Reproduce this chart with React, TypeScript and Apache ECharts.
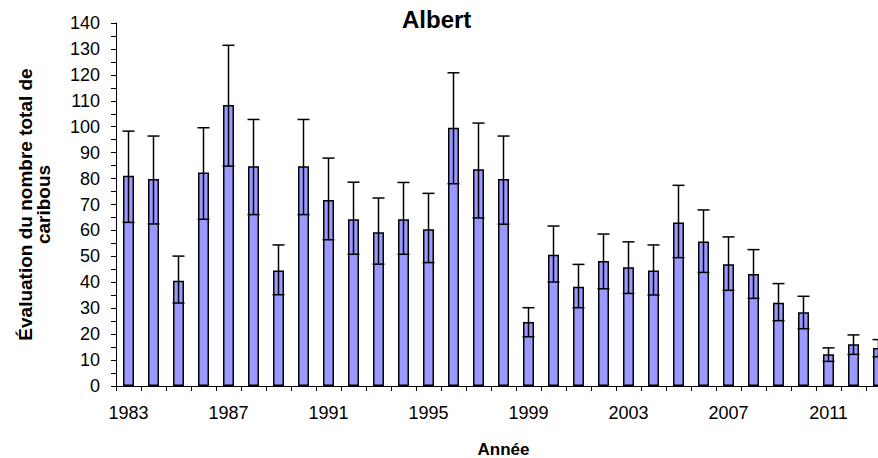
import React, { useEffect, useRef } from "react";
import * as echarts from "echarts";

const years = [
  "1983", "1984", "1985", "1986", "1987", "1988", "1989", "1990", "1991", "1992",
  "1993", "1994", "1995", "1996", "1997", "1998", "1999", "2000", "2001", "2002",
  "2003", "2004", "2005", "2006", "2007", "2008", "2009", "2010", "2011", "2012", "2013",
];
const estimates = [
  81.1, 79.8, 40.6, 82.3, 108.4, 84.8, 44.5, 84.8, 71.7, 64.3,
  59.3, 64.3, 60.5, 99.6, 83.6, 79.8, 24.7, 50.6, 38.3, 48.2,
  45.8, 44.5, 63.1, 55.7, 47.0, 43.2, 32.1, 28.4, 12.2, 16.1, 14.7,
];
const lowerBounds = [
  63.1, 62.5, 32.0, 64.3, 84.8, 66.1, 35.2, 66.1, 56.4, 50.8,
  47.0, 50.8, 47.6, 78.0, 64.8, 62.4, 19.0, 40.1, 30.2, 37.5,
  35.7, 35.1, 49.5, 43.8, 36.9, 33.8, 25.2, 22.1, 9.5, 12.2, 11.3,
];
const upperBounds = [
  98.3, 96.4, 50.1, 99.6, 131.4, 102.8, 54.4, 102.8, 87.9, 78.6,
  72.5, 78.5, 74.3, 120.8, 101.4, 96.4, 30.2, 61.7, 46.9, 58.6,
  55.6, 54.4, 77.4, 67.9, 57.5, 52.6, 39.5, 34.6, 14.7, 19.7, 17.9,
];

const FONT = "'Liberation Sans', Arial, sans-serif";

export default function App() {
  const ref = useRef<HTMLDivElement>(null);
  useEffect(() => {
    if (!ref.current) return;
    const chart = echarts.init(ref.current, undefined, { renderer: "svg" });
    const errData = years.map((_, i) => [i, lowerBounds[i], upperBounds[i]]);
    chart.setOption({
      animation: false,
      backgroundColor: "#ffffff",
      textStyle: { fontFamily: FONT },
      title: {
        text: "Albert",
        left: 402,
        top: 7,
        padding: 0,
        textStyle: { fontFamily: FONT, fontSize: 24, fontWeight: "bold", color: "#000" },
      },
      grid: { left: 116, top: 23, width: 775, height: 363, containLabel: false, outerBoundsMode: "none" },
      xAxis: {
        type: "category",
        data: years,
        name: "Année",
        nameLocation: "middle",
        nameGap: 57,
        nameTextStyle: { fontFamily: FONT, fontSize: 17, fontWeight: "bold", color: "#000", lineHeight: 13 },
        axisLine: { lineStyle: { color: "#000", width: 1 } },
        axisTick: { show: true, interval: 0, length: 5, lineStyle: { color: "#000" } },
        axisLabel: { interval: 3, margin: 18, fontSize: 18, color: "#000", fontFamily: FONT },
        splitLine: { show: false },
      },
      yAxis: {
        type: "value",
        min: 0,
        max: 140,
        interval: 10,
        name: "Évaluation du nombre total de\ncaribous",
        nameLocation: "middle",
        nameRotate: 90,
        nameGap: 64,
        nameTextStyle: {
          fontFamily: FONT,
          fontSize: 19,
          fontWeight: "bold",
          color: "#000",
          lineHeight: 18,
          align: "center",
        },
        axisLine: { show: true, lineStyle: { color: "#000", width: 1 } },
        axisTick: { show: true, length: 5, lineStyle: { color: "#000" } },
        minorTick: { show: true, splitNumber: 2, length: 5, lineStyle: { color: "#000" } },
        axisLabel: { margin: 16, fontSize: 18, color: "#000", fontFamily: FONT },
        splitLine: { show: false },
      },
      series: [
        {
          type: "bar",
          data: estimates,
          barWidth: 11,
          itemStyle: { color: "#9999FF", borderColor: "#000", borderWidth: 1.5 },
        },
        {
          type: "custom",
          data: errData,
          z: 10,
          renderItem: (params: any, api: any) => {
            const idx = api.value(0);
            const lo = api.coord([idx, api.value(1)]);
            const hi = api.coord([idx, api.value(2)]);
            const half = 6;
            const style = { stroke: "#000", lineWidth: 1.5 };
            return {
              type: "group",
              children: [
                { type: "line", shape: { x1: hi[0], y1: hi[1], x2: lo[0], y2: lo[1] }, style },
                { type: "line", shape: { x1: hi[0] - half, y1: hi[1], x2: hi[0] + half, y2: hi[1] }, style },
                { type: "line", shape: { x1: lo[0] - half, y1: lo[1], x2: lo[0] + half, y2: lo[1] }, style },
              ],
            };
          },
        },
      ],
    });
    return () => chart.dispose();
  }, []);
  return (
    <div
      ref={ref}
      style={{ position: "fixed", left: 0, top: 0, width: 878, height: 458, overflow: "hidden" }}
    />
  );
}
